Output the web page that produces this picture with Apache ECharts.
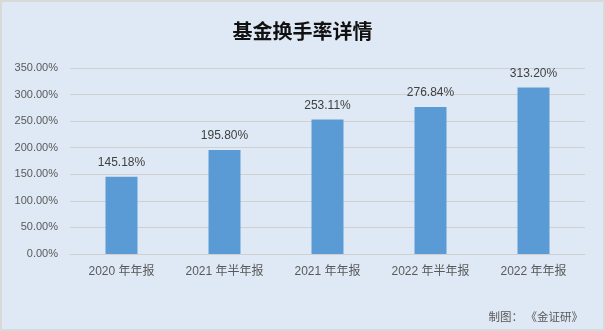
<!DOCTYPE html>
<html><head><meta charset="utf-8">
<script src="https://cdn.jsdelivr.net/npm/echarts@6/dist/echarts.min.js"></script>
<style>
html,body{margin:0;padding:0;background:#fff;}
#c{position:absolute;left:0;top:0;width:601px;height:327px;border:2px solid #D9D9D9;background:#DEE9F5;}
</style></head>
<body><div id="c"></div>
<script>
const categories = ['2020 年年报','2021 年半年报','2021 年年报','2022 年半年报','2022 年年报'];
const turnover = [145.18, 195.80, 253.11, 276.84, 313.20];
const yTicks = {min:0, max:350, interval:50};
const title = '基金换手率详情';
const footer = '制图： 《金证研》';

const chart = echarts.init(document.getElementById('c'));
chart.setOption({
  backgroundColor: 'transparent',
  animation: false,
  title: {text: title, left: 'center', top: 14,
    textStyle: {fontSize: 20, fontWeight: 'bold', color: '#111', fontFamily: 'Noto Sans CJK SC'}},
  graphic: [{type:'text', right: 20, top: 309, style:{text: footer, fontSize: 11.5, fill:'#595959', fontFamily:'Noto Sans CJK SC'}}],
  grid: {left: 68, right: 18, top: 66, bottom: 75},
  xAxis: {type:'category', data: categories,
    axisLine:{lineStyle:{color:'#D0D0D0'}}, axisTick:{show:false},
    axisLabel:{color:'#595959', fontSize:12, margin:12, fontFamily:'Liberation Sans, Noto Sans CJK SC'}},
  yAxis: {type:'value', min: yTicks.min, max: yTicks.max, interval: yTicks.interval,
    axisLabel:{color:'#595959', fontSize:11, margin:12, fontFamily:'Liberation Sans', formatter: v => v.toFixed(2)+'%'},
    splitLine:{lineStyle:{color:'#D0D0D0'}}, axisLine:{show:false}, axisTick:{show:false}},
  series: [{type:'bar', data: turnover, barWidth: 32,
    itemStyle:{color:'#5B9BD5'},
    label:{show:true, position:'top', distance:8, color:'#404040', fontSize:12, fontFamily:'Liberation Sans',
      formatter: p => p.value.toFixed(2)+'%'}}]
});
</script></body></html>
